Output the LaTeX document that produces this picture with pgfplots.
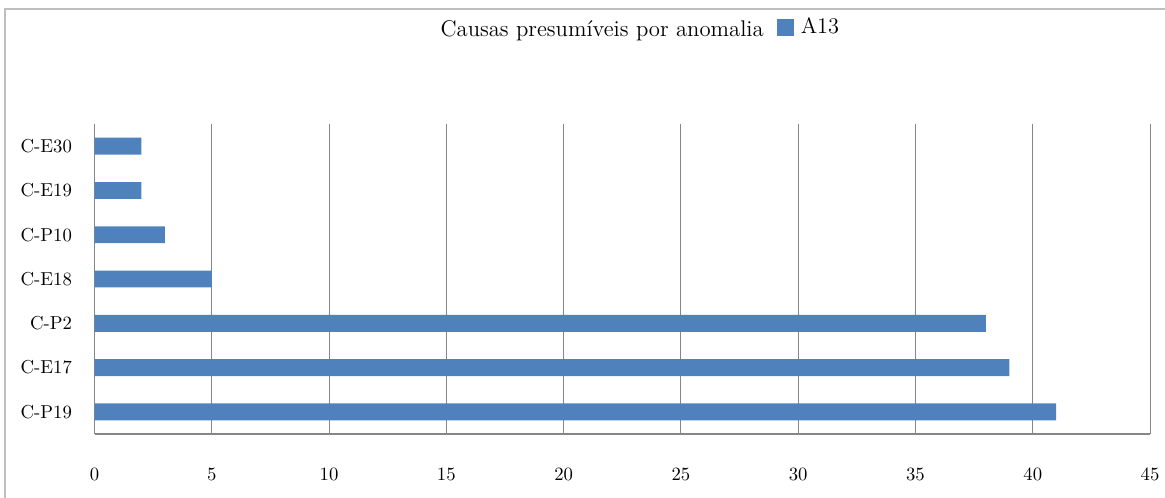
\documentclass[border=0pt]{standalone}
\usepackage{pgfplots}
\pgfplotsset{compat=1.18}
\definecolor{barblue}{RGB}{79,129,189}
\definecolor{gridgray}{RGB}{134,134,134}
\definecolor{framegray}{RGB}{191,191,191}
\begin{document}
\begin{tikzpicture}
\useasboundingbox (0,0) rectangle (647.2pt,276.1pt);
\draw[framegray, line width=1.2pt] (2.8pt,-5pt) -- (2.8pt,271.1pt) -- (660pt,271.1pt);
\begin{axis}[
  at={(52.5pt,35pt)}, anchor=south west,
  scale only axis, width=586.4pt, height=172.2pt,
  xbar, bar width=9.4pt,
  xmin=0, xmax=45, ymin=-0.5, ymax=6.5,
  xtick={0,5,...,45},
  ytick={0,...,6},
  yticklabels={C-P19,C-E17,C-P2,C-E18,C-P10,C-E19,C-E30},
  xmajorgrids, major grid style={gridgray, line width=0.6pt},
  axis x line*=bottom, axis y line*=left,
  major tick length=0pt,
  axis line style={gridgray, line width=0.6pt},
  xticklabel style={yshift=-15.5pt},
  yticklabel style={xshift=-9.0pt},
  tick label style={font=\fontsize{10.4}{12}\selectfont},
  /pgf/number format/assume math mode=true,
  legend style={at={(axis description cs:0.6466,1.312)}, anchor=west, draw=none, fill=none, inner sep=0pt, font=\fontsize{12.4}{14}\selectfont},
  legend image code/.code={\fill[#1] (0pt,-4.6pt) rectangle (9pt,4.6pt);},
]
\addplot[fill=barblue, draw=none] coordinates {(41,0) (39,1) (38,2) (5,3) (3,4) (2,5) (2,6)};
\legend{\hspace{2pt}A13}
\end{axis}
\node[anchor=base east, font=\fontsize{12.6}{15}\selectfont, inner sep=0pt] at (424.5pt,255.7pt) {Causas presumíveis por anomalia};
\end{tikzpicture}
\end{document}
